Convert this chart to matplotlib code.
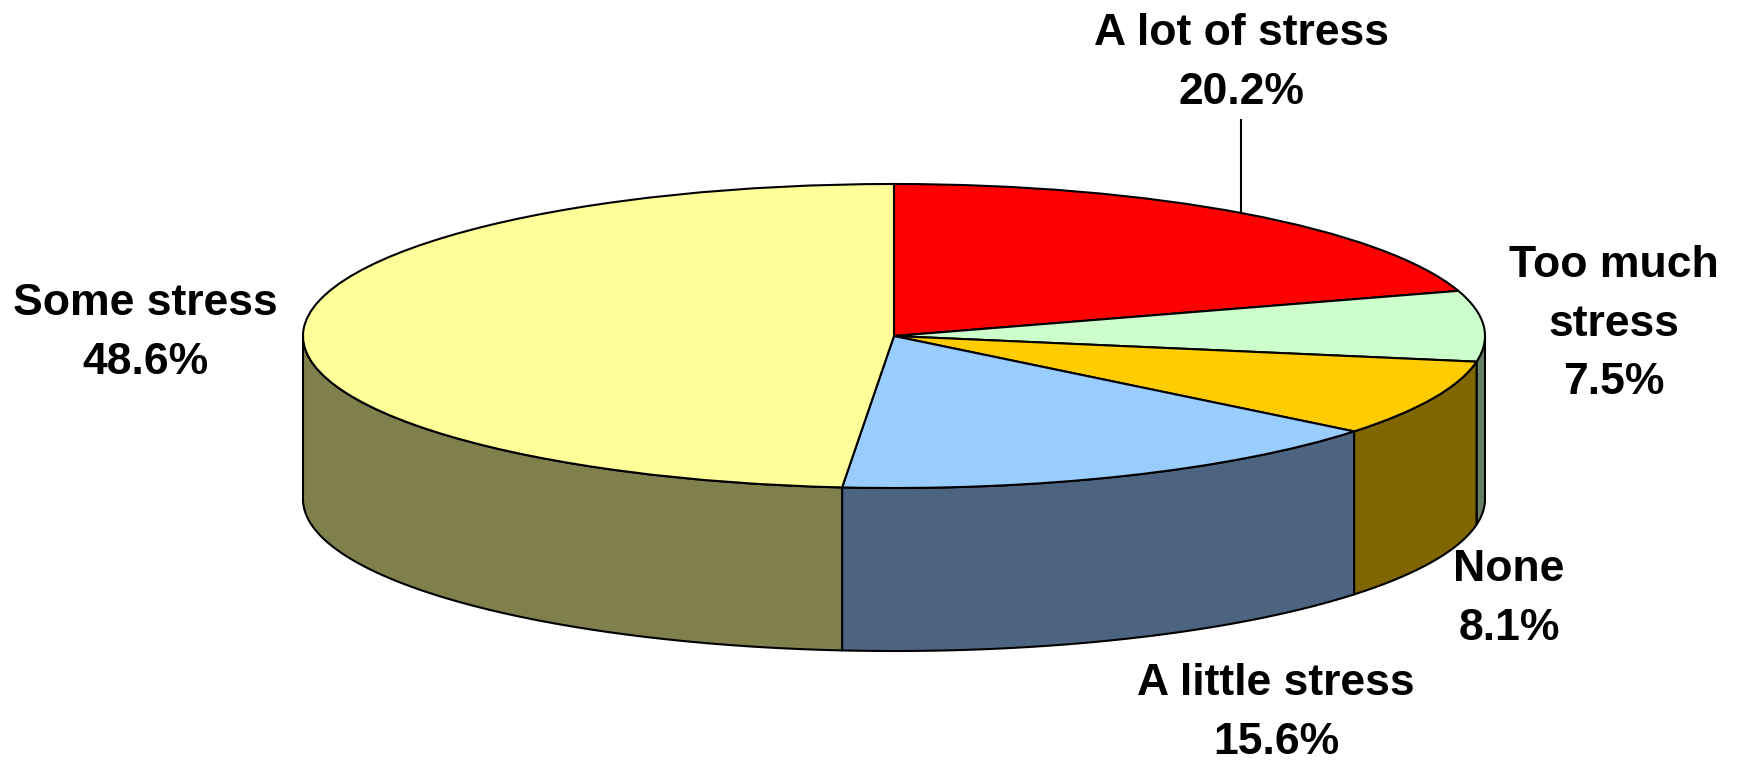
import numpy as np
import matplotlib
matplotlib.use("Agg")
import matplotlib.pyplot as plt
from matplotlib.patches import Polygon

plt.rcParams['font.family'] = ['Liberation Sans', 'DejaVu Sans']

categories = ["A lot of stress", "Too much\nstress", "None", "A little stress", "Some stress"]
values = [20.2, 7.5, 8.1, 15.6, 48.6]
top_colors = ["#FF0000", "#CCFFCC", "#FFCC00", "#99CCFF", "#FFFF99"]
side_colors = ["#800000", "#668066", "#806600", "#4D6480", "#80804D"]
label_pos = [(1241, 63), (1614, 324), (1509, 599), (1276, 713), (145, 333)]

W, H = 1738, 761
cx, cy, rx, ry, depth_px = 894, 336, 591, 152, 163
depth = depth_px / ry

fig = plt.figure(figsize=(W / 100, H / 100), dpi=100, facecolor="white")
ax = fig.add_axes([0, 0, 1, 1])

fractions = np.array(values) / sum(values)
ends = np.cumsum(fractions) * 360
starts = ends - fractions * 360

# side walls: only the front half of the ellipse (90..270 degrees clockwise from top)
for a0, a1, col in zip(starts, ends, side_colors):
    lo, hi = max(a0, 90), min(a1, 270)
    if lo >= hi:
        continue
    t = np.radians(np.linspace(lo, hi, 200))
    x, y = np.sin(t), np.cos(t)
    pts = np.r_[np.c_[x, y], np.c_[x[::-1], y[::-1] - depth]]
    ax.add_patch(Polygon(pts, closed=True, facecolor=col, edgecolor="black", lw=1.5, zorder=1))

ax.pie(values, colors=top_colors, startangle=90, counterclock=False, radius=1,
       center=(0, 0), wedgeprops=dict(edgecolor="black", linewidth=1.5, zorder=2))

ax.set_aspect("auto")
ax.set_xlim(-cx / rx, (W - cx) / rx)
ax.set_ylim((cy - H) / ry, cy / ry)
ax.axis("off")

for cat, val, (px, py) in zip(categories, values, label_pos):
    fig.text(px / W, 1 - py / H, f"{cat}\n{val:.1f}%", ha="center", va="center",
             fontsize=32, fontweight="bold", color="black", linespacing=1.56, zorder=5)

# leader line for the top label
fig.add_artist(plt.Line2D([1241 / W, 1241 / W], [1 - 120 / H, 1 - 213 / H], color="black", lw=1.5))

fig.savefig("out.png", dpi=100, facecolor="white")
